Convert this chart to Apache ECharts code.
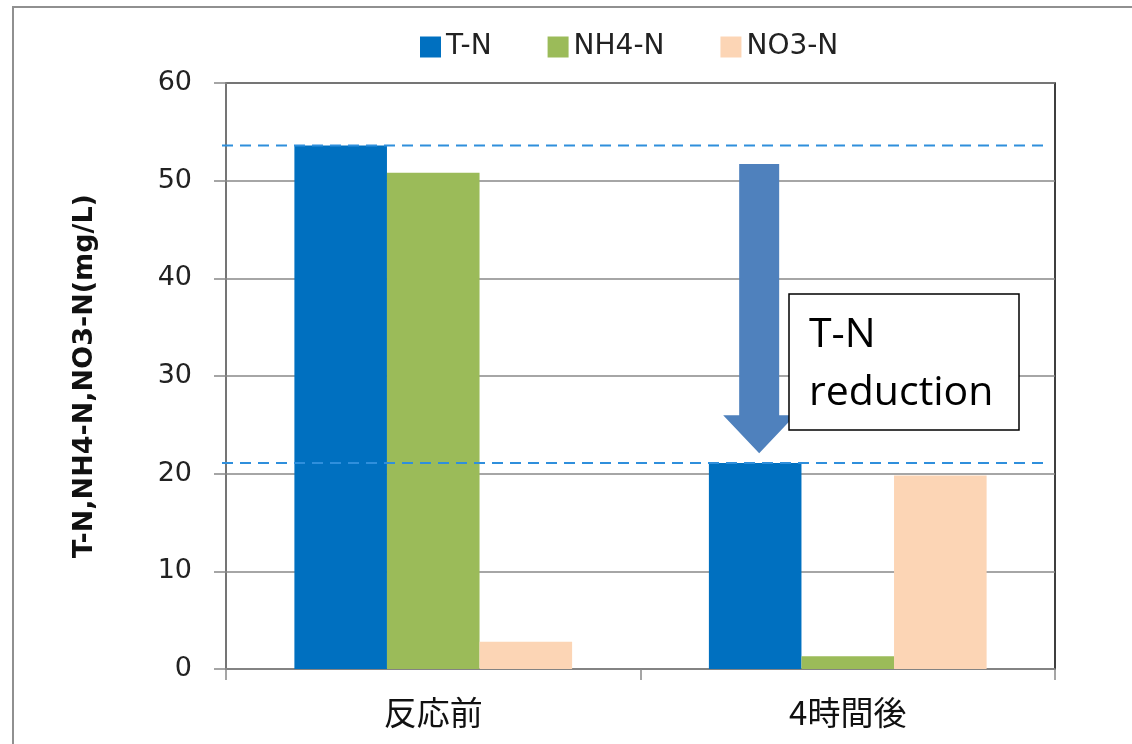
<!DOCTYPE html>
<html>
<head>
<meta charset="utf-8">
<script src="https://cdn.jsdelivr.net/npm/echarts@6/dist/echarts.min.js"></script>
<style>html,body{margin:0;padding:0;background:#fff;}#c{width:1132px;height:744px;}</style>
</head>
<body>
<div id="c"></div>
<script>
const categories = ['反応前', '4時間後'];
const seriesNames = ['T-N', 'NH4-N', 'NO3-N'];
const tnValues = [53.6, 21.1];
const nh4Values = [50.8, 1.3];
const no3Values = [2.8, 19.8];
const yTicks = [0, 10, 20, 30, 40, 50, 60];
const arrowFromValue = 51.7;
const arrowToValue = 22.1;
const annotationText = 'T-N\nreduction';
const yAxisTitle = 'T-N,NH4-N,NO3-N(mg/L)';

const colors = ['#0070c0', '#9bbb59', '#fcd5b5'];
const chart = echarts.init(document.getElementById('c'), null, {renderer: 'canvas'});

const option = {
  animation: false,
  backgroundColor: '#fff',
  grid: {left: 226, right: 77, top: 83, bottom: 75, show: true, borderColor: '#000', borderWidth: 1.5, backgroundColor: 'transparent'},
  legend: {
    left: 420, top: 33, padding: 0, itemWidth: 21, itemHeight: 21, itemGap: 56, icon: 'rect',
    data: seriesNames,
    textStyle: {fontFamily: 'DejaVu Sans', fontSize: 28, color: '#222'}
  },
  xAxis: {
    type: 'category', data: categories,
    axisLine: {lineStyle: {color: '#888', width: 1.5}},
    axisTick: {show: true, length: 11, lineStyle: {color: '#888', width: 1.5}},
    axisLabel: {fontFamily: 'Noto Sans CJK JP', fontSize: 33, color: '#111', margin: 27}
  },
  yAxis: {
    type: 'value', min: 0, max: 60, interval: 10,
    name: yAxisTitle, nameLocation: 'middle', nameGap: 128,
    nameTextStyle: {fontFamily: 'DejaVu Sans', fontWeight: 'bold', fontSize: 27, color: '#111'},
    axisLine: {show: true, lineStyle: {color: '#888', width: 1.5}},
    axisTick: {show: true, length: 12, lineStyle: {color: '#888', width: 1.5}},
    axisLabel: {fontFamily: 'DejaVu Sans', fontSize: 27, color: '#222', margin: 34,
      formatter: v => yTicks.indexOf(v) >= 0 ? String(v) : ''},
    splitLine: {lineStyle: {color: '#888', width: 1.5}}
  },
  series: [
    {name: seriesNames[0], type: 'bar', data: tnValues, itemStyle: {color: colors[0]}, barGap: '0%', barCategoryGap: '33%'},
    {name: seriesNames[1], type: 'bar', data: nh4Values, itemStyle: {color: colors[1]}, barGap: '0%', barCategoryGap: '33%'},
    {name: seriesNames[2], type: 'bar', data: no3Values, itemStyle: {color: colors[2]}, barGap: '0%', barCategoryGap: '33%'}
  ]
};
chart.setOption(option);

// Annotations positioned through the chart's own scales
const yPx = v => chart.convertToPixel({yAxisIndex: 0}, v);
const catPx = i => chart.convertToPixel({xAxisIndex: 0}, i);
const left = 226, right = 1132 - 77;
const band = (right - left) / categories.length;
const barW = band * 0.67 / 3;
const arrowX = catPx(1) - barW + 4;
const yTop = yPx(arrowFromValue), yTip = yPx(arrowToValue);
const shaftHalf = 20, headHalf = 36, headH = 38;

const dashLine = y => ({
  type: 'line', z: 10,
  shape: {x1: 222, y1: y, x2: 1043, y2: y},
  style: {stroke: '#2f8fdc', lineWidth: 2, lineDash: [11, 7]}
});

chart.setOption({
  graphic: [
    {type: 'rect', z: 0, shape: {x: 13, y: 7, width: 1300, height: 900}, style: {fill: 'none', stroke: '#909090', lineWidth: 2}},
    dashLine(yPx(tnValues[0])),
    dashLine(yPx(tnValues[1])),
    {type: 'polygon', z: 11, shape: {points: [
      [arrowX - shaftHalf, yTop], [arrowX + shaftHalf, yTop],
      [arrowX + shaftHalf, yTip - headH], [arrowX + headHalf, yTip - headH],
      [arrowX, yTip], [arrowX - headHalf, yTip - headH],
      [arrowX - shaftHalf, yTip - headH]
    ]}, style: {fill: '#4f81bd'}},
    {type: 'rect', z: 12, shape: {x: 789, y: 294, width: 230, height: 136}, style: {fill: '#fff', stroke: '#000', lineWidth: 1.5}},
    {type: 'text', z: 13, x: 809, y: 306, style: {text: annotationText, fontFamily: 'Open Sans', fontSize: 41, lineHeight: 58, fill: '#000', verticalAlign: 'top'}}
  ]
});
</script>
</body>
</html>
